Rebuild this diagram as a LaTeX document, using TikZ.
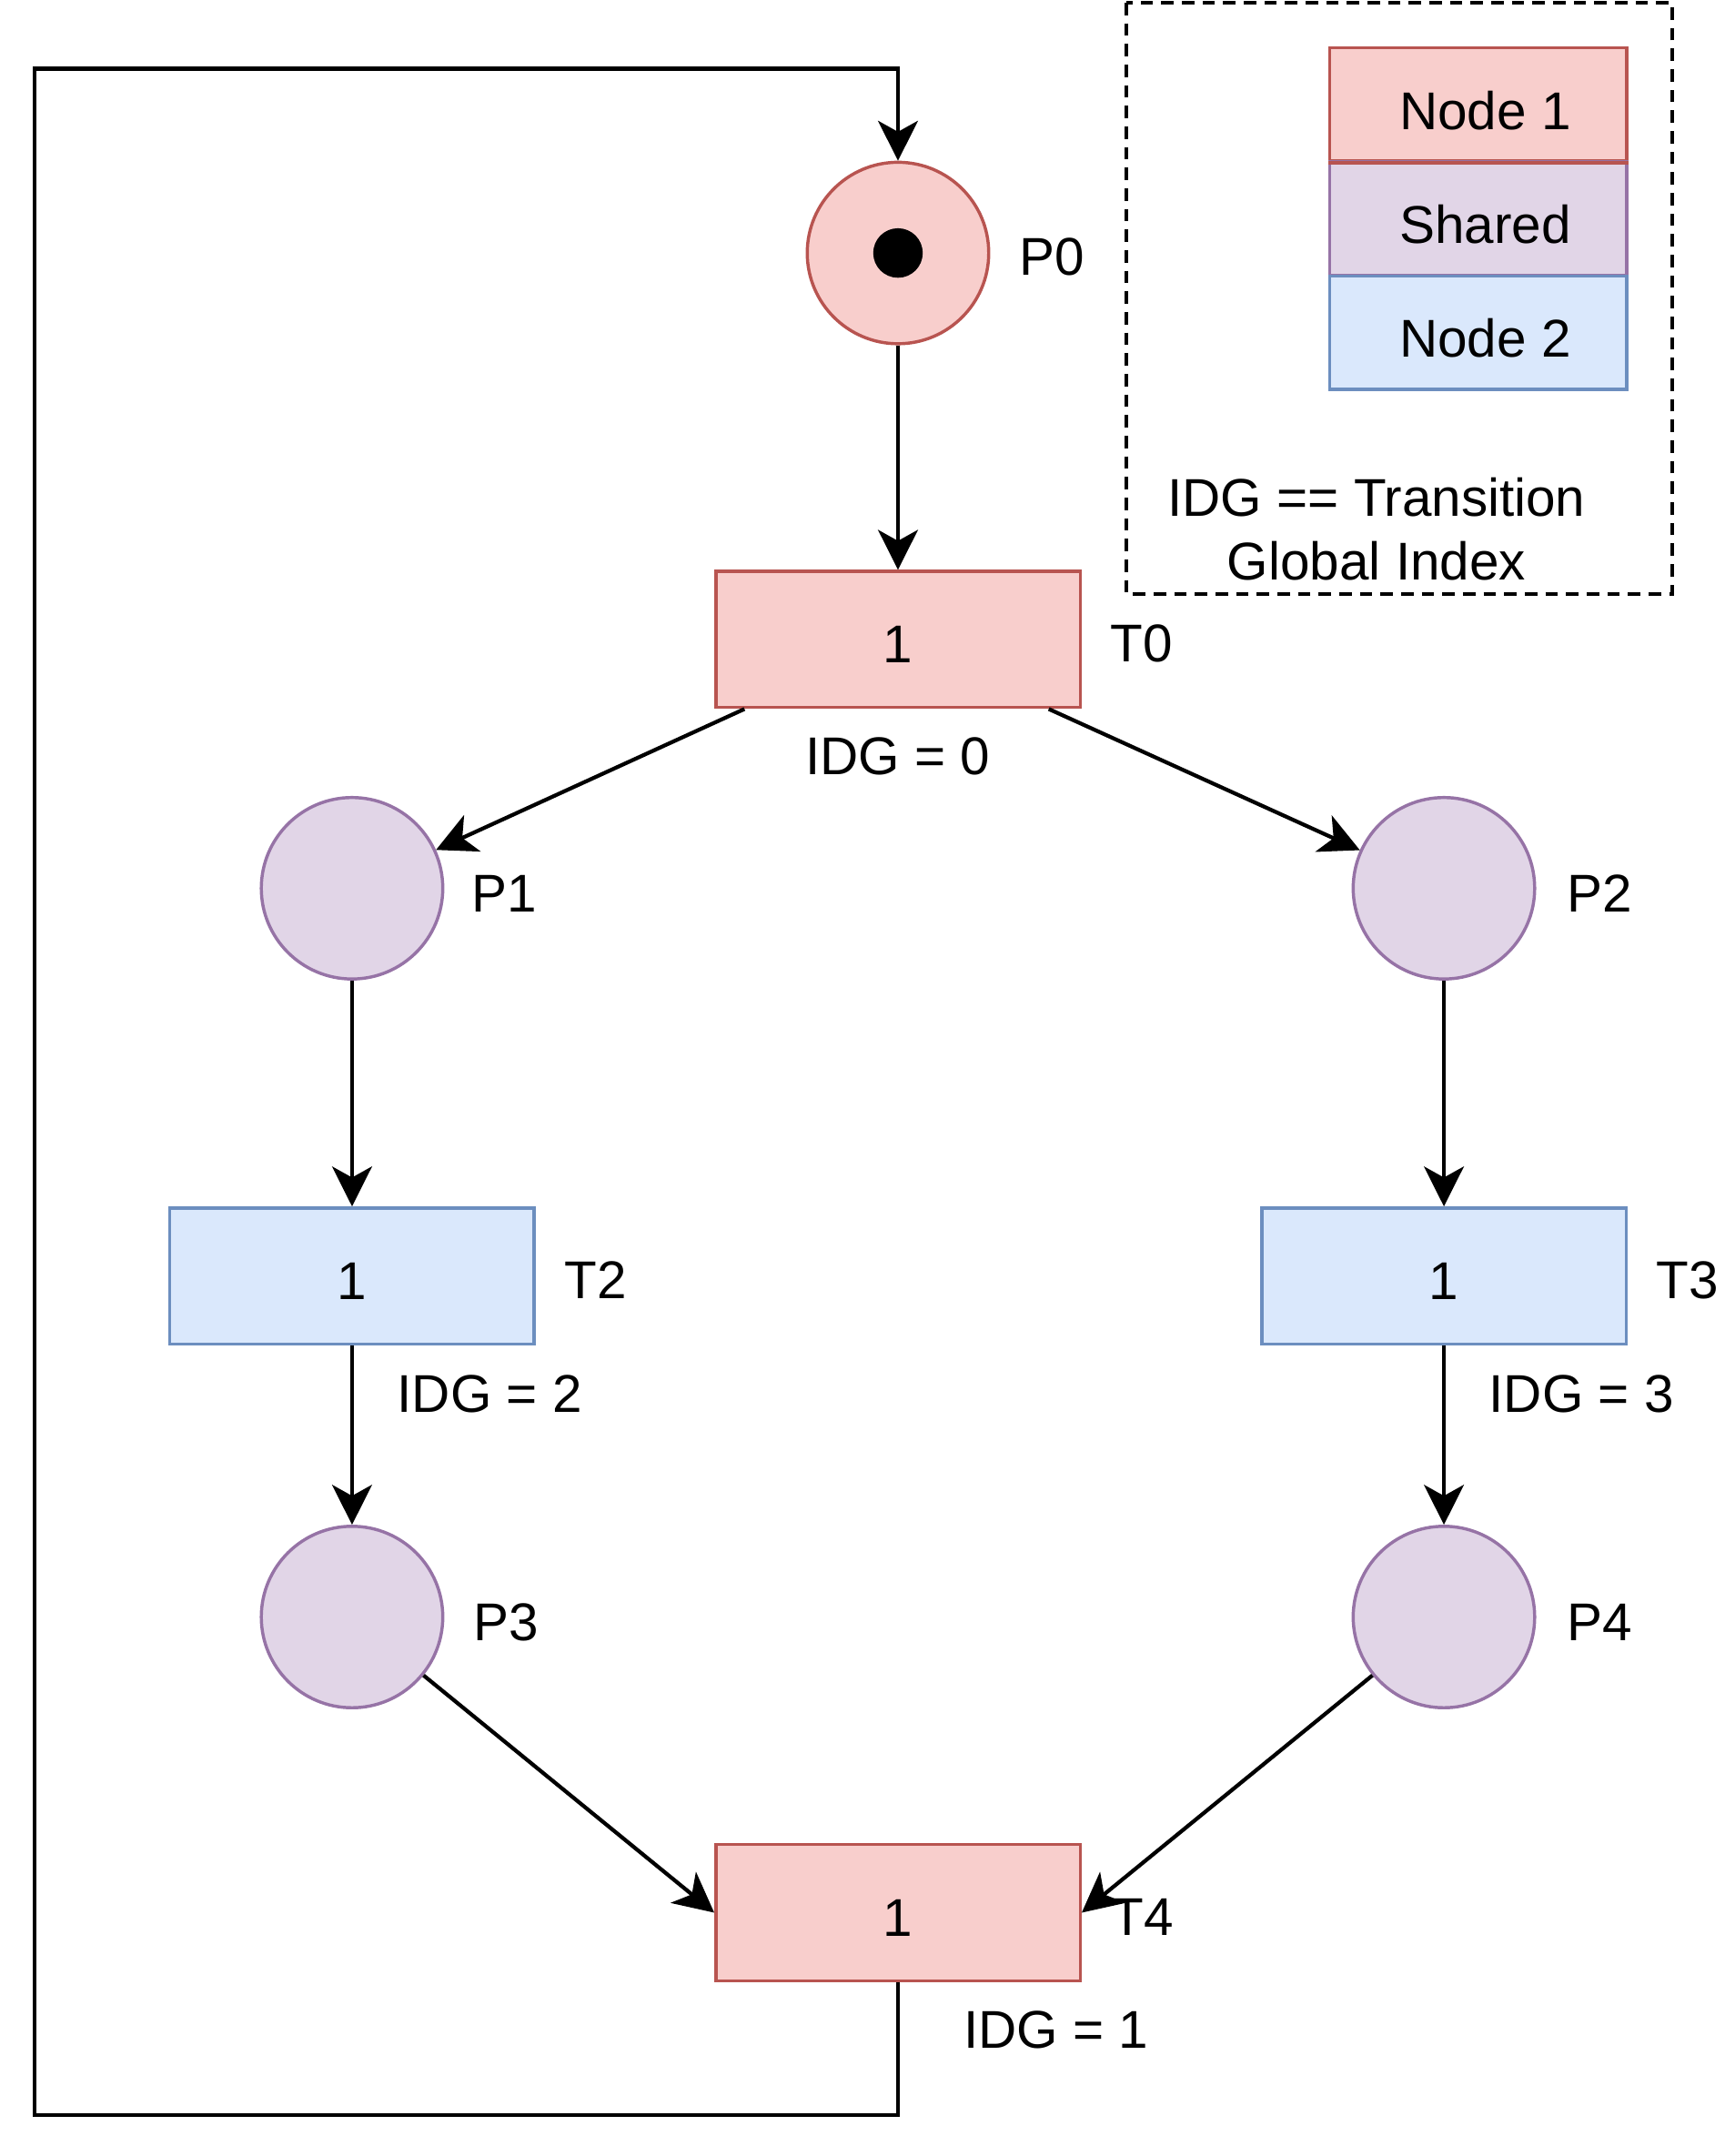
\documentclass[tikz,border=0pt]{standalone}
\usepackage{fontspec}
\setmainfont{Liberation Sans}
\usetikzlibrary{arrows.meta}
\definecolor{nodeonefill}{HTML}{F8CECC}
\definecolor{nodeonedraw}{HTML}{B85450}
\definecolor{sharedfill}{HTML}{E1D5E7}
\definecolor{shareddraw}{HTML}{9673A6}
\definecolor{nodetwofill}{HTML}{DAE8FC}
\definecolor{nodetwodraw}{HTML}{6C8EBF}

\begin{document}
\begin{tikzpicture}[x=0.02cm,y=-0.02cm,
  font=\fontsize{22}{26.5}\selectfont,
  place/.style={circle,draw,line width=1.3pt,minimum size=2.64cm,inner sep=0pt},
  trans/.style={rectangle,draw,line width=1.3pt,minimum width=5.3cm,minimum height=1.98cm,inner sep=0pt,text height=0.68cm,text depth=0pt},
  keybox/.style={rectangle,draw,line width=1.3pt,minimum width=4.32cm,minimum height=1.65cm,inner sep=0pt,text height=0.72cm,text depth=0pt},
  arc/.style={line width=1.6pt,-{Stealth[length=0.58cm,width=0.58cm,inset=0.16cm]}}]
\useasboundingbox (0,0) rectangle (1254,1568);

% legend
\draw[line width=1.6pt,dash pattern=on 0.18cm off 0.12cm] (819,2) rectangle (1216,432);
\node[keybox,fill=nodeonefill,draw=nodeonedraw] (key1) at (1075,76) {\hspace{0.2cm}Node 1};
\node[keybox,fill=sharedfill,draw=shareddraw] (key2) at (1075,159) {\hspace{0.2cm}Shared};
\node[keybox,fill=nodetwofill,draw=nodetwodraw] (key3) at (1075,242) {\hspace{0.2cm}Node 2};
\draw[line width=1.3pt,nodeonedraw] (key1.south west) -- (key1.south east);
\node[align=center] (keytext) at (1001,385) {IDG == Transition\\Global Index};

% places
\node[place,fill=nodeonefill,draw=nodeonedraw] (P0) at (653,184) {};
\node[circle,fill=black,minimum size=0.72cm,inner sep=0pt] (tok) at (P0) {};
\node[place,fill=sharedfill,draw=shareddraw] (P1) at (256,646) {};
\node[place,fill=sharedfill,draw=shareddraw] (P2) at (1050,646) {};
\node[place,fill=sharedfill,draw=shareddraw] (P3) at (256,1176) {};
\node[place,fill=sharedfill,draw=shareddraw] (P4) at (1050,1176) {};

% transitions
\node[trans,fill=nodeonefill,draw=nodeonedraw] (T0) at (653,465) {1};
\node[trans,fill=nodetwofill,draw=nodetwodraw] (T2) at (256,928) {1};
\node[trans,fill=nodetwofill,draw=nodetwodraw] (T3) at (1050,928) {1};
\node[trans,fill=nodeonefill,draw=nodeonedraw] (T4) at (653,1391) {1};

% labels
\node (P0lab) at (765,187) {P0};
\node (P1lab) at (367,650) {P1};
\node (P2lab) at (1163,650) {P2};
\node (P3lab) at (368,1180) {P3};
\node (P4lab) at (1163,1180) {P4};
\node (T0lab) at (830,468) {T0};
\node (T2lab) at (433,931) {T2};
\node (T3lab) at (1227,931) {T3};
\node (T4lab) at (831,1394) {T4};
\node (T0idg) at (653,550) {IDG = 0};
\node (T2idg) at (356,1014) {IDG = 2};
\node (T3idg) at (1150,1014) {IDG = 3};
\node (T4idg) at (768,1476) {IDG = 1};

% arcs
\coordinate (loopbl) at (25,1538);
\coordinate (looptl) at (25,50);
\draw[arc] (P0) -- (T0);
\draw[arc] ([xshift=0.44cm]T0.south west) -- (P1);
\draw[arc] ([xshift=-0.48cm]T0.south east) -- (P2);
\draw[arc] (P1) -- (T2);
\draw[arc] (P2) -- (T3);
\draw[arc] (T2) -- (P3);
\draw[arc] (T3) -- (P4);
\draw[arc] (P3) -- (T4.west);
\draw[arc] (P4) -- (T4.east);
\draw[arc] (T4.south) |- (loopbl) -- (looptl) -| (P0.north);

\end{tikzpicture}
\end{document}
